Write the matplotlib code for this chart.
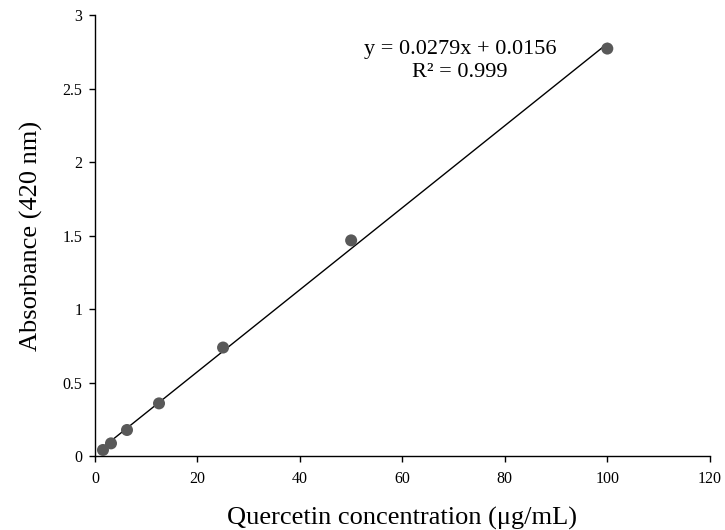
import matplotlib
matplotlib.use("Agg")
import matplotlib.pyplot as plt
import numpy as np

plt.rcParams['font.family'] = ['Liberation Serif', 'DejaVu Serif']
plt.rcParams['mathtext.fontset'] = 'stix'

conc = [1.5625, 3.125, 6.25, 12.5, 25, 50, 100]
absorb = [0.041, 0.086, 0.177, 0.358, 0.738, 1.467, 2.772]
slope = 0.0279
intercept = 0.0156
eq_text = "y = 0.0279x + 0.0156\nR² = 0.999"

fig = plt.figure(figsize=(7.25, 5.3), dpi=100)
ax = fig.add_axes([0.131, 0.1396, 0.848, 0.832])

xf = np.array([min(conc), max(conc)])
ax.plot(xf, slope * xf + intercept, color='black', lw=1.0, zorder=2)
ax.scatter(conc, absorb, s=75, color='#595959', zorder=3, edgecolors='none')

ax.set_xlim(0, 120)
ax.set_ylim(0, 3)
ax.set_xticks(range(0, 121, 20))
ax.set_yticks([0, 0.5, 1, 1.5, 2, 2.5, 3])
ax.set_yticklabels(['0', '0.5', '1', '1.5', '2', '2.5', '3'])
for s in ['top', 'right']:
    ax.spines[s].set_visible(False)
for s in ['left', 'bottom']:
    ax.spines[s].set_linewidth(1.0)
ax.tick_params(direction='out', length=4, width=1, labelsize=11.5)
ax.tick_params(axis='x', pad=7)
ax.tick_params(axis='y', pad=5)

ax.set_xlabel('Quercetin concentration (μg/mL)', fontsize=19, labelpad=14)
ax.set_ylabel('Absorbance (420 nm)', fontsize=19, labelpad=14)

ax.text(71.2, 2.69, eq_text, ha='center', va='center', fontsize=16, linespacing=1.3)

fig.savefig('out.png', dpi=100)
